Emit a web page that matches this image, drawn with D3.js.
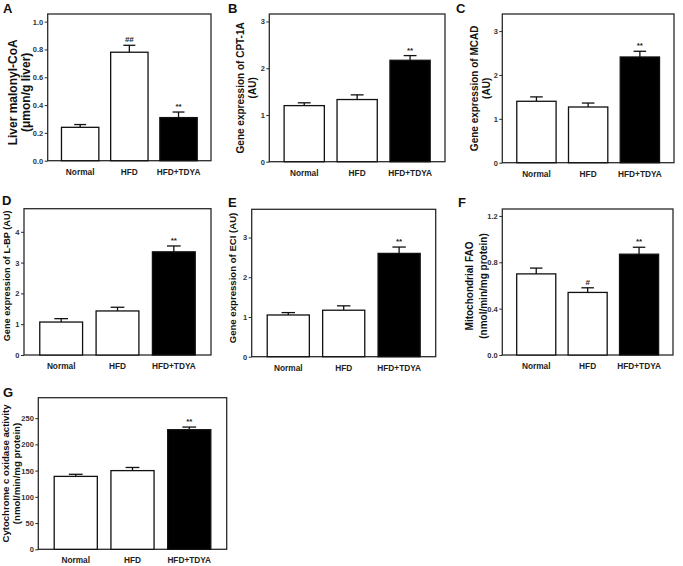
<!DOCTYPE html>
<html>
<head>
<meta charset="utf-8">
<script src="https://cdn.jsdelivr.net/npm/d3@7/dist/d3.min.js"></script>
<style>
  html, body { margin: 0; padding: 0; background: #fff; }
  svg { display: block; }
  text { font-family: "Liberation Sans", Arial, sans-serif; font-weight: bold; }
</style>
</head>
<body>
<svg id="chart" width="683" height="566"></svg>
<script>
// ---------------- DATA ----------------
const categories = ["Normal", "HFD", "HFD+TDYA"];

const malonylCoA      = [0.24, 0.78, 0.31];
const malonylCoAErr   = [0.02, 0.05, 0.04];
const cpt1a           = [1.20, 1.33, 2.17];
const cpt1aErr        = [0.06, 0.10, 0.10];
const mcad            = [1.40, 1.27, 2.41];
const mcadErr         = [0.10, 0.09, 0.13];
const lbp             = [1.07, 1.43, 3.35];
const lbpErr          = [0.11, 0.12, 0.19];
const eci             = [1.05, 1.17, 2.60];
const eciErr          = [0.06, 0.11, 0.16];
const fao             = [0.70, 0.54, 0.87];
const faoErr          = [0.05, 0.04, 0.06];
const cox             = [139, 150, 228];
const coxErr          = [4, 6, 5];

const sigA = ["", "##", "**"];
const sigB = ["", "", "**"];
const sigC = ["", "", "**"];
const sigD = ["", "", "**"];
const sigE = ["", "", "**"];
const sigF = ["", "#", "**"];
const sigG = ["", "", "**"];

const ticksA = [0, 0.2, 0.4, 0.6, 0.8, 1.0];
const ticksB = [0, 1, 2, 3];
const ticksC = [0, 1, 2, 3];
const ticksD = [0, 1, 2, 3, 4];
const ticksE = [0, 1, 2, 3];
const ticksF = [0, 0.4, 0.8, 1.2];
const ticksG = [0, 50, 100, 150, 200, 250];

const yMaxA = 1.055, yMaxB = 3.16, yMaxC = 3.39, yMaxD = 4.75, yMaxE = 3.71, yMaxF = 1.26, yMaxG = 289;

const labelA = ["Liver malonyl-CoA", "(μmon/g liver)"];
const labelB = ["Gene expression of CPT-1A", "(AU)"];
const labelC = ["Gene expression of MCAD", "(AU)"];
const labelD = ["Gene expression of L-BP (AU)"];
const labelE = ["Gene expression of ECI (AU)"];
const labelF = ["Mitochondrial FAO", "(nmol/min/mg protein)"];
const labelG = ["Cytochrome c oxidase activity", "(nmol/min/mg protein)"];

const barFills = ["#ffffff", "#ffffff", "#000000"];

// ---------------- LAYOUT ----------------
const panels = [
  { letter: "A", values: malonylCoA, errs: malonylCoAErr, sig: sigA, ticks: ticksA, yMax: yMaxA, fmt: ".1f", label: labelA,
    frame: [47.7, 211, 14, 160.7], lx: [13.3, 25.5], lyOff: 5, lfs: 12, letterPos: [3, 13] },
  { letter: "B", values: cpt1a, errs: cpt1aErr, sig: sigB, ticks: ticksB, yMax: yMaxB, fmt: "d", label: labelB,
    frame: [269.3, 445, 14, 161.7], lx: [240, 252], lyOff: 0, lfs: 10, letterPos: [228, 13] },
  { letter: "C", values: mcad, errs: mcadErr, sig: sigC, ticks: ticksC, yMax: yMaxC, fmt: "d", label: labelC,
    frame: [502.3, 674, 14, 162.7], lx: [474.7, 486.5], lyOff: 0, lfs: 10, letterPos: [456, 13] },
  { letter: "D", values: lbp, errs: lbpErr, sig: sigD, ticks: ticksD, yMax: yMaxD, fmt: "d", label: labelD,
    frame: [24, 211, 208.7, 355], lx: [7], lyOff: -6, lfs: 9.2, letterPos: [2, 205] },
  { letter: "E", values: eci, errs: eciErr, sig: sigE, ticks: ticksE, yMax: yMaxE, fmt: "d", label: labelE,
    frame: [251.7, 435.7, 209.3, 356.7], lx: [232], lyOff: -5, lfs: 9.6, letterPos: [228, 207] },
  { letter: "F", values: fao, errs: faoErr, sig: sigF, ticks: ticksF, yMax: yMaxF, fmt: ".1f", label: labelF,
    frame: [502.3, 673, 209, 355], lx: [469.7, 483], lyOff: 4, lfs: 10, letterPos: [458, 207] },
  { letter: "G", values: cox, errs: coxErr, sig: sigG, ticks: ticksG, yMax: yMaxG, fmt: "d", label: labelG,
    frame: [38.3, 226.7, 397.7, 549.3], lx: [5.5, 16.5], lyOff: 0, lfs: 9.6, letterPos: [3, 397] }
];

const svg = d3.select("#chart");

panels.forEach(p => {
  const [x0, x1, y0, y1] = p.frame;
  const g = svg.append("g");

  const x = d3.scaleBand().domain(categories).range([x0, x1]).paddingInner(0.24).paddingOuter(0.28);
  const y = d3.scaleLinear().domain([0, p.yMax]).range([y1, y0]);

  // frame
  g.append("rect")
    .attr("x", x0).attr("y", y0).attr("width", x1 - x0).attr("height", y1 - y0)
    .attr("fill", "none").attr("stroke", "#2a2a2a").attr("stroke-width", 1.3);

  // y axis
  const yAxis = d3.axisLeft(y).tickValues(p.ticks).tickFormat(d3.format(p.fmt)).tickSize(3).tickPadding(1.5);
  const ax = g.append("g").attr("transform", `translate(${x0},0)`).call(yAxis);
  ax.select(".domain").remove();
  ax.selectAll(".tick line").attr("stroke", "#2a2a2a").attr("stroke-width", 1);
  ax.selectAll(".tick text").attr("fill", "#333").style("font-size", "7.5px").style("font-family", "'Liberation Sans', Arial, sans-serif").style("font-weight", "bold");

  const data = categories.map((c, i) => ({ c, v: p.values[i], e: p.errs[i], s: p.sig[i], fill: barFills[i] }));

  const bw = x.bandwidth();
  const capW = bw * 0.32;

  // error bars (upper only)
  data.forEach(d => {
    const cx = x(d.c) + bw / 2;
    g.append("line").attr("x1", cx).attr("x2", cx).attr("y1", y(d.v)).attr("y2", y(d.v + d.e))
      .attr("stroke", "#111").attr("stroke-width", 1.3);
    g.append("line").attr("x1", cx - capW / 2).attr("x2", cx + capW / 2).attr("y1", y(d.v + d.e)).attr("y2", y(d.v + d.e))
      .attr("stroke", "#111").attr("stroke-width", 1.3);
  });

  // bars
  g.selectAll("rect.bar").data(data).enter().append("rect")
    .attr("class", "bar")
    .attr("x", d => x(d.c)).attr("width", bw)
    .attr("y", d => y(d.v)).attr("height", d => y(0) - y(d.v))
    .attr("fill", d => d.fill).attr("stroke", "#111").attr("stroke-width", 1.3);

  // significance marks
  g.selectAll("text.sig").data(data.filter(d => d.s)).enter().append("text")
    .attr("class", "sig")
    .attr("x", d => x(d.c) + bw / 2).attr("y", d => y(d.v + d.e) - 3)
    .attr("text-anchor", "middle").attr("fill", "#222").style("font-size", "8px")
    .text(d => d.s);

  // category labels
  g.selectAll("text.cat").data(categories).enter().append("text")
    .attr("class", "cat")
    .attr("x", d => x(d) + bw / 2).attr("y", y1 + 14)
    .attr("text-anchor", "middle").attr("fill", "#222").style("font-size", "8.3px")
    .text(d => d);

  // y label
  const cy = (y0 + y1) / 2 + p.lyOff;
  p.label.forEach((t, i) => {
    g.append("text")
      .attr("transform", `translate(${p.lx[i]},${cy}) rotate(-90)`)
      .attr("text-anchor", "middle").attr("dominant-baseline", "central")
      .attr("fill", "#111").style("font-size", p.lfs + "px")
      .text(t);
  });

  // panel letter
  g.append("text").attr("x", p.letterPos[0]).attr("y", p.letterPos[1])
    .attr("fill", "#111").style("font-size", "13px").text(p.letter);
});
</script>
</body>
</html>
